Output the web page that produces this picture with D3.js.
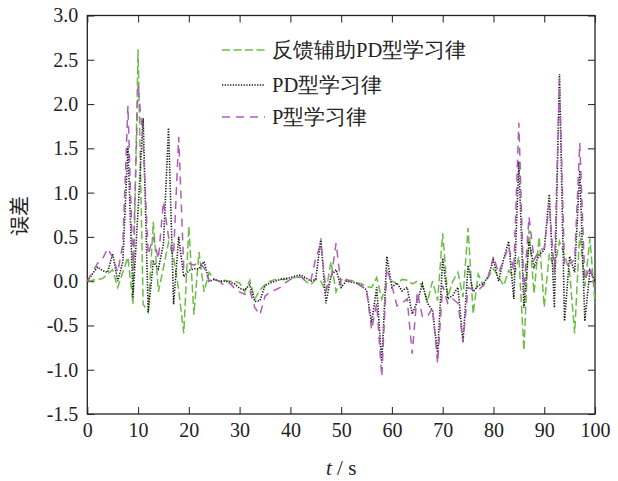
<!DOCTYPE html>
<html>
<head>
<meta charset="utf-8">
<script src="https://cdn.jsdelivr.net/npm/d3@7"></script>
<style>
  html, body { margin: 0; padding: 0; background: #fff; }
  svg { display: block; }
</style>
</head>
<body>
<svg id="chart" width="618" height="481"></svg>
<script>
// Time axis: one sample per second
const times = d3.range(0, 101);

// Error of the feedback-assisted PD learning law
const errFeedbackPD = [
  0, 0.01, 0.02, 0.03, 0.08, 0.13, -0.07, 0.1, 0.27, -0.26,
  2.62, -0.26, -0.35, 0.67, -0.12, 0.15, 0.44, 0.27, -0.1, -0.59,
  0.62, -0.38, 0.33, -0.12, 0.1, 0.02, 0.0, 0.01, 0.0, 0.0,
  -0.02, -0.12, 0.01, -0.2, -0.1, -0.04, 0.0, 0.02, 0.02, 0.02,
  0.03, 0.04, 0.05, 0.0, -0.04, 0.02, 0.0, -0.12, 0.22, -0.12,
  0.02, 0.0, 0.01, -0.02, -0.03, -0.06, -0.07, 0.04, -0.2, -0.02,
  0.0, -0.03, 0.02, 0.01, -0.03, 0.0, -0.05, -0.23, 0.0, -0.22,
  0.54, -0.18, 0.0, 0.1, -0.18, 0.6, -0.37, 0.08, -0.05, 0.05,
  0.14, 0.05, -0.05, 0.12, 0.05, 0.28, -0.78, 0.58, -0.14, 0.5,
  -0.29, 0.31, 0.14, 0.45, 0.3, 0.1, -0.59, 0.56, -0.06, 0.48,
  -0.25
];

// Error of the PD learning law
const errPD = [
  0, 0.08, 0.16, 0.12, 0.1, 0.31, 0.0, 0.22, 1.52, -0.18,
  0.8, 1.84, -0.35, 0.22, 0.14, 0.42, 1.73, -0.26, 0.5, 0.05,
  0.12, 0.14, 0.14, 0.22, 0.0, 0.02, 0.0, 0.0, -0.01, -0.03,
  -0.08, -0.1, -0.04, -0.23, -0.22, -0.05, -0.02, 0.0, 0.02, 0.03,
  0.04, 0.06, 0.07, 0.04, 0.0, 0.02, 0.48, -0.25, 0.06, 0.13,
  -0.07, 0.0, -0.01, -0.02, -0.05, -0.1, -0.47, -0.07, -0.92, 0.28,
  -0.07, -0.02, -0.11, -0.07, -0.37, -0.23, -0.03, -0.25, -0.33, -0.82,
  0.26, -0.2, -0.16, -0.07, -0.69, 0.18, -0.12, -0.05, -0.03, 0.06,
  0.24, 0.0, 0.25, 0.45, -0.2, 1.35, -0.3, 0.45, 0.16, 0.3,
  0.35, 0.98, -0.3, 2.34, -0.45, 0.28, 0.1, 1.25, -0.45, 0.12,
  0.0
];

// Error of the P learning law
const errP = [
  0, 0.1, 0.2, 0.25, 0.37, 0.27, 0.1, 0.42, 1.98, 0.12,
  2.22, 1.55, 0.3, 0.5, 0.25, 0.9, 0.5, 0.3, 1.63, 0.15,
  0.2, 0.18, 0.22, 0.15, 0.0, 0.02, 0.0, -0.05, -0.02, -0.08,
  -0.12, -0.15, -0.1, -0.3, -0.38, -0.17, -0.12, -0.1, -0.07, -0.02,
  0.02, 0.04, 0.05, 0.02, 0.0, 0.26, 0.42, -0.1, 0.02, 0.43,
  -0.05, 0.02, 0.0, -0.02, -0.06, -0.1, -0.55, -0.25, -1.08, 0.15,
  -0.05, -0.28, -0.25, -0.2, -0.82, -0.12, -0.4, -0.4, -0.3, -0.93,
  -0.05, -0.25, -0.2, -0.25, -0.68, -0.07, -0.1, -0.1, -0.05, 0.05,
  0.28, 0.09, 0.24, 0.39, 0.12, 1.79, -0.14, 0.73, 0.24, 0.35,
  0.37, 0.88, 0.09, 2.28, 0.16, 0.2, 0.24, 1.56, 0.01, 0.16,
  -0.06
];

const seriesNames = ["反馈辅助PD型学习律", "PD型学习律", "P型学习律"];
const xTicks = d3.range(0, 101, 10);
const yTicks = d3.range(-1.5, 3.01, 0.5);
const xLabel = "s";
const yLabel = "误差";

const SERIF = '"Liberation Serif", "Times New Roman", Times, "DejaVu Serif", serif';

const series = [
  { name: seriesNames[0], values: errFeedbackPD, color: "#6cbd47", dash: "8,3.5", width: 1.5 },
  { name: seriesNames[1], values: errPD, color: "#1a1a1a", dash: "1.3,1.4", width: 1.6 },
  { name: seriesNames[2], values: errP, color: "#ad5fb5", dash: "8,6", width: 1.5 }
];

const svg = d3.select("#chart");
svg.append("rect").attr("width", 618).attr("height", 481).attr("fill", "#fff");

const plot = { left: 87.3, right: 595, top: 15.5, bottom: 414 };
const x = d3.scaleLinear().domain([0, 100]).range([plot.left, plot.right]);
const y = d3.scaleLinear().domain([-1.5, 3.0]).range([plot.bottom, plot.top]);

const tickLen = 7;
// plain hyphen for negative numbers
const fmtY = d => d3.format(".1f")(d).replace("\u2212", "-");

// Bottom and left axes with inward ticks and labels
const gx = svg.append("g")
  .attr("transform", `translate(0,${plot.bottom})`)
  .call(d3.axisBottom(x).tickValues(xTicks).tickSizeInner(-tickLen).tickSizeOuter(0).tickPadding(9).tickFormat(d3.format("d")));
const gy = svg.append("g")
  .attr("transform", `translate(${plot.left},0)`)
  .call(d3.axisLeft(y).tickValues(yTicks).tickSizeInner(-tickLen).tickSizeOuter(0).tickPadding(9).tickFormat(fmtY));

// Top and right axes: ticks only
const gxTop = svg.append("g")
  .attr("transform", `translate(0,${plot.top})`)
  .call(d3.axisTop(x).tickValues(xTicks).tickSizeInner(-tickLen).tickSizeOuter(0).tickFormat(""));
const gyRight = svg.append("g")
  .attr("transform", `translate(${plot.right},0)`)
  .call(d3.axisRight(y).tickValues(yTicks).tickSizeInner(-tickLen).tickSizeOuter(0).tickFormat(""));

[gx, gy, gxTop, gyRight].forEach(g => {
  g.attr("font-family", null).attr("font-size", null);
  g.select(".domain").remove();
  g.selectAll(".tick line").attr("stroke", "#333").attr("stroke-width", 1.1);
  g.selectAll("text")
    .style("font-family", SERIF)
    .style("font-size", "20px")
    .attr("fill", "#222");
});

// Frame
svg.append("rect")
  .attr("x", plot.left).attr("y", plot.top)
  .attr("width", plot.right - plot.left).attr("height", plot.bottom - plot.top)
  .attr("fill", "none").attr("stroke", "#222").attr("stroke-width", 1.3);

// Series lines
const line = d3.line().x((d, i) => x(times[i])).y(d => y(d));
series.forEach(s => {
  svg.append("path")
    .datum(s.values)
    .attr("d", line)
    .attr("fill", "none")
    .attr("stroke", s.color)
    .attr("stroke-width", s.width)
    .attr("stroke-dasharray", s.dash)
    .attr("stroke-linejoin", "miter");
});

// Legend
const legendRows = [50, 85, 117];
series.forEach((s, i) => {
  const ly = legendRows[i];
  svg.append("line")
    .attr("x1", 222).attr("x2", 265).attr("y1", ly).attr("y2", ly)
    .attr("stroke", s.color).attr("stroke-width", s.width)
    .attr("stroke-dasharray", s.dash);
  svg.append("text")
    .attr("x", 272).attr("y", ly).attr("dy", "0.35em")
    .style("font-family", SERIF)
    .style("font-size", "20.5px")
    .attr("fill", "#222")
    .text(s.name);
});

// Axis titles
svg.append("text")
  .attr("transform", `translate(27,216) rotate(-90)`)
  .attr("text-anchor", "middle")
  .style("font-family", '"Noto Sans CJK SC", sans-serif')
  .style("font-size", "20px")
  .attr("fill", "#222")
  .text(yLabel);

const xt = svg.append("text")
  .attr("x", (plot.left + plot.right) / 2).attr("y", 475)
  .attr("text-anchor", "middle")
  .style("font-family", SERIF)
  .style("font-size", "21px")
  .attr("fill", "#222");
xt.append("tspan").attr("font-style", "italic").text("t");
xt.append("tspan").text(" / " + xLabel);
</script>
</body>
</html>
